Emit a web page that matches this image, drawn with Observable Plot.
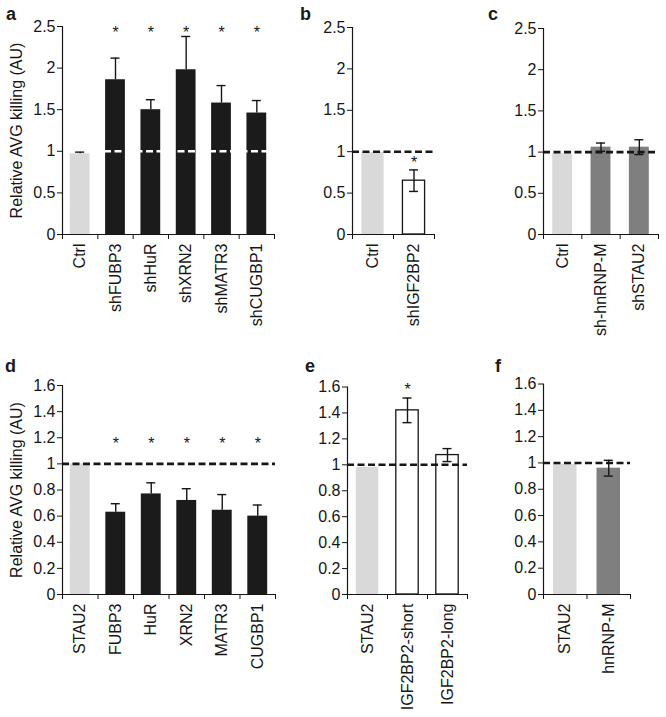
<!DOCTYPE html>
<html><head><meta charset="utf-8">
<script src="https://cdn.jsdelivr.net/npm/d3@7"></script>
<script src="https://cdn.jsdelivr.net/npm/@observablehq/plot@0.6"></script>
<style>
body{margin:0;background:#fff;}
#fig{position:relative;width:666px;height:717px;font-family:"Liberation Sans",Arial,sans-serif;color:#1a1a1a;}
.panel{position:absolute;}
.letter{position:absolute;font-weight:bold;font-size:18px;line-height:1;}
</style></head><body><div id="fig"></div>
<script>
// ---- data ----
const catsA = ["Ctrl","shFUBP3","shHuR","shXRN2","shMATR3","shCUGBP1"];
const valsA = [0.97,1.86,1.50,1.98,1.58,1.46];
const errsA = [0.02,0.26,0.12,0.40,0.21,0.15];
const sigA  = [false,true,true,true,true,true];

const catsB = ["Ctrl","shIGF2BP2"];
const valsB = [0.99,0.65];
const errsB = [0,0.13];
const sigB  = [false,true];

const catsC = ["Ctrl","sh-hnRNP-M","shSTAU2"];
const valsC = [0.98,1.06,1.06];
const errsC = [0,0.05,0.09];
const sigC  = [false,false,false];

const catsD = ["STAU2","FUBP3","HuR","XRN2","MATR3","CUGBP1"];
const valsD = [1.0,0.63,0.77,0.72,0.645,0.60];
const errsD = [0,0.065,0.085,0.09,0.12,0.085];
const sigD  = [false,true,true,true,true,true];

const catsE = ["STAU2","IGF2BP2-short","IGF2BP2-long"];
const valsE = [0.98,1.42,1.075];
const errsE = [0,0.095,0.05];
const sigE  = [false,true,false];

const catsF = ["STAU2","hnRNP-M"];
const valsF = [0.99,0.96];
const errsF = [0,0.06];
const sigF  = [false,false];

const yTicksTop = [0,0.5,1,1.5,2,2.5];
const yLabelsTop = ["0","0.5","1","1.5","2","2.5"];
const yTicksBot = [0,0.2,0.4,0.6,0.8,1,1.2,1.4,1.6];
const yLabelsBot = ["0","0.2","0.4","0.6","0.8","1","1.2","1.4","1.6"];
const refLevel = 1;
const yTitle = "Relative AVG killing (AU)";

// ---- styles ----
const CTRL = "#d9d9d9", BLACK = "#1b1b1b", GRAY = "#7f7f7f", WHITE = "#ffffff", INK = "#161616";

function panel(cfg) {
  const {cats, vals, errs, sig, yTicks, yLabels, g} = cfg;
  const n = cats.length;
  const rows = cats.map((c, i) => ({i, c, v: vals[i], e: errs[i], s: sig[i]}));
  const frameW = g.width - g.ml - g.mr;
  const band = frameW / n;
  const cw = 4.5 / band;
  const hw = g.hw;
  const bounds = d3.range(n + 1).map(k => k - 0.5);
  const labelMap = new Map(yTicks.map((t, k) => [t, yLabels[k]]));
  const err = rows.filter(r => r.e > 0);
  const marks = [
    Plot.rect(rows.filter(r => r.i === 0), {x1: r => r.i - hw, x2: r => r.i + hw, y1: 0, y2: "v", fill: CTRL}),
    Plot.rect(rows.filter(r => r.i > 0), {x1: r => r.i - hw, x2: r => r.i + hw, y1: 0, y2: "v",
      fill: cfg.fill, stroke: cfg.fill === WHITE ? INK : null, strokeWidth: 1.3}),
    Plot.ruleY([refLevel], {stroke: cfg.dash, strokeWidth: 2.6, strokeDasharray: "7,3.5"}),
    Plot.ruleX(err, {x: "i", y1: r => cfg.twoSided ? r.v - r.e : r.v, y2: r => r.v + r.e, stroke: INK, strokeWidth: 1.4}),
    Plot.ruleY(err, {y: r => r.v + r.e, x1: r => r.i - cw, x2: r => r.i + cw, stroke: INK, strokeWidth: 1.4}),
    cfg.twoSided ? Plot.ruleY(err, {y: r => r.v - r.e, x1: r => r.i - cw, x2: r => r.i + cw, stroke: INK, strokeWidth: 1.4}) : null,
    Plot.text(rows.filter(r => r.s), {x: "i", y: r => cfg.starAbove ? r.v + r.e : cfg.starLevel, dy: cfg.starDy,
      text: () => "*", fontSize: 16, fill: INK}),
    Plot.ruleX([-0.5], {stroke: INK, strokeWidth: 1.2}),
    Plot.ruleY([0], {stroke: INK, strokeWidth: 1.2}),
    Plot.axisY({ticks: yTicks, tickFormat: t => labelMap.get(t), tickSize: 5, tickPadding: 2, label: null, stroke: INK, fill: INK}),
    Plot.axisX({ticks: bounds, tickFormat: () => "", tickSize: 5, label: null, stroke: INK}),
    Plot.axisX({ticks: d3.range(n), tickFormat: i => cats[i], tickSize: 0, tickPadding: 9, tickRotate: -90, label: null, fill: INK}),
    cfg.yTitle ? Plot.text([cfg.yTitle], {frameAnchor: "left", rotate: -90, dx: 16 - g.ml, textAnchor: "middle", fontSize: 16, fill: INK}) : null
  ].filter(Boolean);
  const svg = Plot.plot({
    width: g.width, height: g.height,
    marginLeft: g.ml, marginRight: g.mr, marginTop: g.mt, marginBottom: g.mb,
    x: {type: "linear", domain: [-0.5, n - 0.5]},
    y: {type: "linear", domain: [0, cfg.yMax]},
    style: {fontFamily: '"Liberation Sans", Arial, sans-serif', fontSize: "16px", background: "transparent", overflow: "visible", color: INK},
    marks
  });
  svg.classList.add("panel");
  svg.style.left = g.left + "px";
  svg.style.top = g.top + "px";
  return svg;
}

const fig = document.getElementById("fig");
const panels = [
  {cats: catsA, vals: valsA, errs: errsA, sig: sigA, yTicks: yTicksTop, yLabels: yLabelsTop, yMax: 2.5,
   fill: BLACK, dash: WHITE, twoSided: false, starAbove: false, starLevel: 2.5, starDy: 6, yTitle,
   g: {left: 0, top: 0, width: 285, height: 345, ml: 62, mr: 11, mt: 26, mb: 111, hw: 0.28}},
  {cats: catsB, vals: valsB, errs: errsB, sig: sigB, yTicks: yTicksTop, yLabels: yLabelsTop, yMax: 2.5,
   fill: WHITE, dash: INK, twoSided: true, starAbove: true, starDy: -7,
   g: {left: 290, top: 0, width: 150, height: 345, ml: 62, mr: 6, mt: 27, mb: 111, hw: 0.27}},
  {cats: catsC, vals: valsC, errs: errsC, sig: sigC, yTicks: yTicksTop, yLabels: yLabelsTop, yMax: 2.5,
   fill: GRAY, dash: INK, twoSided: true, starAbove: true, starDy: -7,
   g: {left: 480, top: 0, width: 186, height: 345, ml: 63, mr: 8, mt: 28, mb: 111, hw: 0.26}},
  {cats: catsD, vals: valsD, errs: errsD, sig: sigD, yTicks: yTicksBot, yLabels: yLabelsBot, yMax: 1.6,
   fill: BLACK, dash: INK, twoSided: false, starAbove: false, starLevel: 1.2, starDy: 6, yTitle,
   g: {left: 0, top: 360, width: 285, height: 357, ml: 62, mr: 10, mt: 25, mb: 123, hw: 0.28}},
  {cats: catsE, vals: valsE, errs: errsE, sig: sigE, yTicks: yTicksBot, yLabels: yLabelsBot, yMax: 1.6,
   fill: WHITE, dash: INK, twoSided: true, starAbove: true, starDy: -8,
   g: {left: 290, top: 360, width: 185, height: 357, ml: 57, mr: 8, mt: 26.5, mb: 123, hw: 0.28}},
  {cats: catsF, vals: valsF, errs: errsF, sig: sigF, yTicks: yTicksBot, yLabels: yLabelsBot, yMax: 1.6,
   fill: GRAY, dash: INK, twoSided: true, starAbove: true, starDy: -8,
   g: {left: 480, top: 360, width: 186, height: 357, ml: 63, mr: 36, mt: 23.5, mb: 123, hw: 0.27}}
];
panels.forEach(p => fig.appendChild(panel(p)));

const letters = [["a", 6, 5], ["b", 300, 5], ["c", 488, 5], ["d", 5, 357], ["e", 305, 357], ["f", 495, 357]];
letters.forEach(([t, x, y]) => {
  const el = document.createElement("div");
  el.className = "letter";
  el.textContent = t;
  el.style.left = x + "px";
  el.style.top = y + "px";
  fig.appendChild(el);
});
</script></body></html>
